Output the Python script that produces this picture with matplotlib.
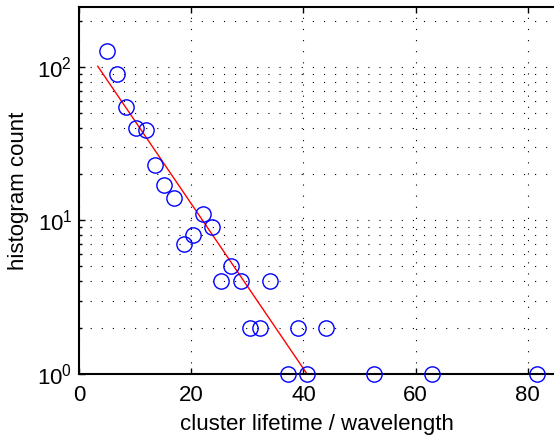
"""Histogram of cluster lifetimes on a log scale, with an exponential fit."""

import matplotlib
matplotlib.use("Agg")
import matplotlib.pyplot as plt
from matplotlib.ticker import LogLocator, NullFormatter

# histogram bins (lifetime / wavelength) and counts
lifetime = [4.9, 6.7, 8.4, 10.1, 11.85, 13.5, 15.2, 16.9, 18.6, 20.3,
            22.0, 23.7, 25.3, 27.1, 28.8, 30.5, 32.2, 34.0, 37.3, 39.0,
            40.7, 44.1, 52.6, 62.9, 81.6]
counts = [127, 90, 55, 40, 39, 23, 17, 14, 7, 8,
          11, 9, 4, 5, 4, 2, 2, 4, 1, 2,
          1, 2, 1, 1, 1]

# exponential fit, drawn as a straight line on the log axis
fit_x = [3.3, 40.6]
fit_y = [101.0, 1.0]

xticks = [0, 20, 40, 60, 80]

plt.rcParams['font.family'] = ['Liberation Sans', 'DejaVu Sans']
plt.rcParams['lines.scale_dashes'] = False

fig = plt.figure(figsize=(5.54, 4.37), dpi=100)
ax = fig.add_axes([0.1431, 0.1449, 1.0 - 0.1431, 0.984 - 0.1449])

ax.plot(fit_x, fit_y, color='red', linewidth=1.0)
ax.plot(lifetime, counts, linestyle='none', marker='o', markersize=11,
        markerfacecolor='none', markeredgecolor='blue', markeredgewidth=1.0,
        clip_on=False, zorder=5)

ax.set_yscale('log')
ax.set_xlim(0, 84.7)
ax.set_ylim(1, 246)
ax.set_xticks(xticks)
ax.yaxis.set_major_locator(LogLocator(base=10, numticks=10))
ax.yaxis.set_minor_locator(LogLocator(base=10, subs=range(2, 10), numticks=20))
ax.yaxis.set_minor_formatter(NullFormatter())

dots = (0, (0.8, 7.2))
ax.grid(True, which='major', axis='both', color='black', linestyle=dots,
        linewidth=0.8)
ax.grid(True, which='minor', axis='y', color='black', linestyle=dots,
        linewidth=0.8)

ax.tick_params(which='both', direction='in', top=True, right=False,
               labelsize=16, width=1.0)
ax.tick_params(axis='x', pad=8)
ax.tick_params(axis='y', pad=5)
ax.tick_params(which='major', length=4)
ax.tick_params(which='minor', length=2)

for side in ['left', 'bottom', 'top']:
    ax.spines[side].set_linewidth(1.5)
ax.spines['right'].set_visible(False)

ax.set_xlabel('cluster lifetime / wavelength', fontsize=16, labelpad=6)
ax.set_ylabel('histogram count', fontsize=16, labelpad=6)

fig.savefig('out.png', dpi=100)
